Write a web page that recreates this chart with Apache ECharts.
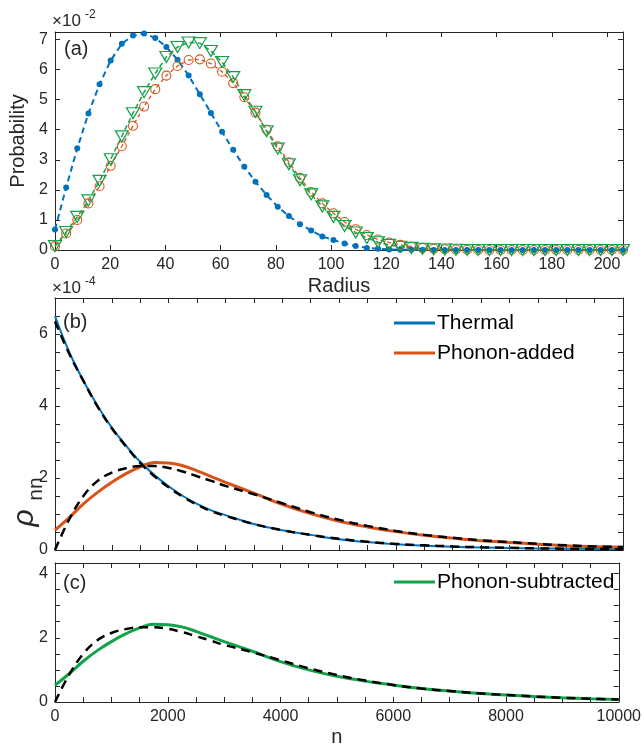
<!DOCTYPE html>
<html>
<head>
<meta charset="utf-8">
<script src="https://cdn.jsdelivr.net/npm/echarts@6/dist/echarts.min.js"></script>
<style>
html,body{margin:0;padding:0;background:#fff;}
#chart{width:644px;height:748px;}
</style>
</head>
<body>
<div id="chart"></div>
<script>
// ---------- Panel (a) data (Probability, units of 1e-2) ----------
const radius = [0, 4.04, 8.07, 12.11, 16.14, 20.18, 24.21, 28.25, 32.28, 36.32, 40.35, 44.39, 48.42, 52.46, 56.49, 60.53, 64.56, 68.6, 72.63, 76.67, 80.7, 84.74, 88.77, 92.81, 96.84, 100.88, 104.91, 108.95, 112.98, 117.02, 121.05, 125.09, 129.12, 133.16, 137.19, 141.23, 145.26, 149.3, 153.33, 157.37, 161.4, 165.44, 169.47, 173.51, 177.54, 181.58, 185.61, 189.65, 193.68, 197.72, 201.75, 205.79];
const probThermal = [0.68, 2.08, 3.38, 4.54, 5.51, 6.3, 6.86, 7.13, 7.2, 7.05, 6.75, 6.33, 5.8, 5.18, 4.56, 3.93, 3.33, 2.77, 2.27, 1.83, 1.44, 1.13, 0.86, 0.65, 0.45, 0.33, 0.22, 0.13, 0.07, 0.04, 0.02, 0.01, 0.005, 0, 0, 0, 0, 0, 0, 0, 0, 0, 0, 0, 0, 0, 0, 0, 0, 0, 0, 0];
const probAdded = [0.12, 0.55, 1.0, 1.55, 2.12, 2.8, 3.45, 4.13, 4.77, 5.35, 5.8, 6.12, 6.32, 6.34, 6.2, 5.93, 5.55, 5.08, 4.57, 4.0, 3.45, 2.92, 2.4, 1.93, 1.55, 1.22, 0.93, 0.69, 0.5, 0.35, 0.25, 0.17, 0.11, 0.07, 0.04, 0.025, 0.015, 0.01, 0, 0, 0, 0, 0, 0, 0, 0, 0, 0, 0, 0, 0, 0];
const probSubtracted = [0.13, 0.6, 1.1, 1.65, 2.3, 3.02, 3.78, 4.55, 5.25, 5.87, 6.42, 6.75, 6.9, 6.88, 6.62, 6.25, 5.75, 5.15, 4.6, 3.95, 3.37, 2.85, 2.32, 1.85, 1.45, 1.1, 0.8, 0.58, 0.4, 0.26, 0.17, 0.11, 0.07, 0.04, 0.025, 0.015, 0.01, 0, 0, 0, 0, 0, 0, 0, 0, 0, 0, 0, 0, 0, 0, 0];

// ---------- Panels (b),(c) data (rho_nn, units of 1e-4) ----------
const nVals = [0, 250, 500, 750, 1000, 1250, 1500, 1750, 2000, 2250, 2500, 2750, 3000, 3500, 4000, 4500, 5000, 5500, 6000, 6500, 7000, 7500, 8000, 8500, 9000, 9500, 10000];
const rhoThermal = [6.5, 5.5, 4.7, 4.0, 3.4, 2.9, 2.45, 2.08, 1.77, 1.5, 1.28, 1.1, 0.97, 0.72, 0.55, 0.42, 0.3, 0.22, 0.16, 0.12, 0.09, 0.07, 0.055, 0.045, 0.035, 0.03, 0.025];
const fitThermal = [6.35, 5.45, 4.7, 3.98, 3.38, 2.88, 2.42, 2.05, 1.74, 1.48, 1.26, 1.08, 0.95, 0.72, 0.55, 0.42, 0.31, 0.23, 0.17, 0.13, 0.1, 0.075, 0.06, 0.045, 0.035, 0.028, 0.022];
const rhoAdded = [0.55, 0.9, 1.28, 1.6, 1.88, 2.12, 2.31, 2.43, 2.42, 2.34, 2.2, 2.04, 1.88, 1.58, 1.27, 1.01, 0.8, 0.64, 0.51, 0.41, 0.33, 0.26, 0.21, 0.16, 0.12, 0.095, 0.075];
const fitAdded = [0, 0.85, 1.5, 1.92, 2.15, 2.27, 2.33, 2.33, 2.28, 2.18, 2.05, 1.92, 1.78, 1.55, 1.3, 1.05, 0.84, 0.67, 0.53, 0.42, 0.34, 0.27, 0.22, 0.17, 0.13, 0.1, 0.08];
const rhoSubtracted = [0.52, 0.88, 1.27, 1.6, 1.88, 2.12, 2.31, 2.42, 2.41, 2.34, 2.2, 2.04, 1.88, 1.58, 1.26, 1.0, 0.8, 0.65, 0.53, 0.42, 0.34, 0.27, 0.22, 0.17, 0.13, 0.1, 0.08];
const fitSubtracted = [0, 0.85, 1.5, 1.92, 2.15, 2.27, 2.33, 2.33, 2.28, 2.18, 2.05, 1.92, 1.78, 1.55, 1.3, 1.05, 0.84, 0.67, 0.53, 0.42, 0.34, 0.27, 0.22, 0.17, 0.13, 0.1, 0.08];

const radiusTicks = [0, 20, 40, 60, 80, 100, 120, 140, 160, 180, 200];
const nTicks = [0, 2000, 4000, 6000, 8000, 10000];

// ---------- styling ----------
const FONT = '"Liberation Sans", Arial, Helvetica, sans-serif';
const AX = '#262626';
const BLUE = '#0072BD', ORANGE = '#D95319', GREEN = '#12A24A';

function pairs(xs, ys) { return xs.map((x, i) => [x, ys[i]]); }
function near(v, list) { return list.some(t => Math.abs(t - v) < 1e-6); }

function xAxis(grid, min, max, interval, pos, labels, name, nameGap) {
  return {
    type: 'value', gridIndex: grid, position: pos, min: min, max: max, interval: interval,
    axisLine: { show: true, onZero: false, lineStyle: { color: AX, width: 1 } },
    axisTick: { show: true, inside: true, length: 5, lineStyle: { color: AX } },
    splitLine: { show: false },
    axisLabel: {
      show: !!labels, color: AX, fontFamily: FONT, fontSize: 16, margin: 7,
      formatter: v => (labels && near(v, labels)) ? String(v) : ''
    },
    name: name || '', nameLocation: 'middle', nameGap: nameGap || 0,
    nameTextStyle: { color: AX, fontFamily: FONT, fontSize: 20 }
  };
}
function yAxis(grid, min, max, interval, pos, labels, name, nameGap) {
  return {
    type: 'value', gridIndex: grid, position: pos, min: min, max: max, interval: interval,
    axisLine: { show: true, onZero: false, lineStyle: { color: AX, width: 1 } },
    axisTick: { show: true, inside: true, length: 5, lineStyle: { color: AX } },
    splitLine: { show: false },
    axisLabel: {
      show: !!labels, color: AX, fontFamily: FONT, fontSize: 16, margin: 7,
      formatter: v => (labels && near(v, labels)) ? String(v) : ''
    },
    name: name || '', nameLocation: 'middle', nameGap: nameGap || 0, nameRotate: 90,
    nameTextStyle: { color: AX, fontFamily: FONT, fontSize: 20 }
  };
}

const chart = echarts.init(document.getElementById('chart'), null, { renderer: 'canvas' });

const option = {
  animation: false,
  backgroundColor: '#fff',
  grid: [
    { left: 55, top: 32, width: 568, height: 218 },
    { left: 55, top: 298, width: 568, height: 252 },
    { left: 55, top: 563, width: 568, height: 155 }
  ],
  xAxis: [
    xAxis(0, 0, 205.79, 20, 'bottom', radiusTicks, 'Radius', 26),
    xAxis(0, 0, 205.79, 20, 'top', null),
    xAxis(1, 0, 10000, 500, 'bottom', null),
    xAxis(1, 0, 10000, 500, 'top', null),
    xAxis(2, 0, 10000, 500, 'bottom', nTicks, 'n', 25),
    xAxis(2, 0, 10000, 500, 'top', null)
  ],
  yAxis: [
    yAxis(0, 0, 7.25, 1, 'left', [0, 1, 2, 3, 4, 5, 6, 7], 'Probability', 21),
    yAxis(0, 0, 7.25, 1, 'right', null),
    yAxis(1, 0, 7, 0.5, 'left', [0, 2, 4, 6]),
    yAxis(1, 0, 7, 0.5, 'right', null),
    yAxis(2, 0, 4.33, 0.5, 'left', [0, 2, 4]),
    yAxis(2, 0, 4.33, 0.5, 'right', null)
  ],
  legend: [
    {
      data: ['Thermal', 'Phonon-added'], orient: 'vertical', left: 389, top: 303,
      icon: 'rect', itemWidth: 41, itemHeight: 3, itemGap: 0, selectedMode: false,
      textStyle: { fontFamily: FONT, fontSize: 21, color: '#000', lineHeight: 30, padding: [0, 0, 0, -3] }
    },
    {
      data: ['Phonon-subtracted'], orient: 'vertical', left: 389, top: 562,
      icon: 'rect', itemWidth: 41, itemHeight: 3, itemGap: 0, selectedMode: false,
      textStyle: { fontFamily: FONT, fontSize: 21, color: '#000', lineHeight: 30, padding: [0, 0, 0, -3] }
    }
  ],
  series: [
    // panel (a)
    {
      name: 'P-thermal', type: 'line', xAxisIndex: 0, yAxisIndex: 0, clip: false,
      data: pairs(radius, probThermal), symbol: 'circle', symbolSize: 6,
      itemStyle: { color: BLUE }, lineStyle: { color: BLUE, width: 2, type: [6, 4] }
    },
    {
      name: 'P-added', type: 'line', xAxisIndex: 0, yAxisIndex: 0, clip: false,
      data: pairs(radius, probAdded), symbol: 'circle', symbolSize: 9,
      itemStyle: { color: 'rgba(0,0,0,0)', borderColor: ORANGE, borderWidth: 1.1 },
      lineStyle: { color: ORANGE, width: 1.3, type: [4, 3] }
    },
    {
      name: 'P-subtracted', type: 'line', xAxisIndex: 0, yAxisIndex: 0, clip: false,
      data: pairs(radius, probSubtracted), symbol: 'triangle', symbolRotate: 180, symbolSize: [13, 11],
      itemStyle: { color: 'rgba(0,0,0,0)', borderColor: GREEN, borderWidth: 1.2 },
      lineStyle: { color: GREEN, width: 1.5, type: [5, 3] }
    },
    // panel (b)
    {
      name: 'Thermal', type: 'line', xAxisIndex: 2, yAxisIndex: 2, smooth: 0.4, symbol: 'none',
      data: pairs(nVals, rhoThermal), itemStyle: { color: BLUE }, lineStyle: { color: BLUE, width: 2 }
    },
    {
      name: 'Phonon-added', type: 'line', xAxisIndex: 2, yAxisIndex: 2, smooth: 0.4, symbol: 'none',
      data: pairs(nVals, rhoAdded), itemStyle: { color: ORANGE }, lineStyle: { color: ORANGE, width: 3 }
    },
    {
      name: 'fit-thermal', type: 'line', xAxisIndex: 2, yAxisIndex: 2, smooth: 0.4, symbol: 'none',
      data: pairs(nVals, fitThermal), itemStyle: { color: '#000' }, lineStyle: { color: '#000', width: 2.5, type: [9, 6] }
    },
    {
      name: 'fit-added', type: 'line', xAxisIndex: 2, yAxisIndex: 2, smooth: 0.4, symbol: 'none',
      data: pairs(nVals, fitAdded), itemStyle: { color: '#000' }, lineStyle: { color: '#000', width: 2.5, type: [9, 6] }
    },
    // panel (c)
    {
      name: 'Phonon-subtracted', type: 'line', xAxisIndex: 4, yAxisIndex: 4, smooth: 0.4, symbol: 'none',
      data: pairs(nVals, rhoSubtracted), itemStyle: { color: GREEN }, lineStyle: { color: GREEN, width: 3 }
    },
    {
      name: 'fit-subtracted', type: 'line', xAxisIndex: 4, yAxisIndex: 4, smooth: 0.4, symbol: 'none',
      data: pairs(nVals, fitSubtracted), itemStyle: { color: '#000' }, lineStyle: { color: '#000', width: 2.5, type: [9, 6] }
    }
  ],
  graphic: [
    { type: 'text', x: 64, y: 49, style: { text: '(a)', font: '20px ' + FONT, fill: AX, textVerticalAlign: 'middle' } },
    { type: 'text', x: 63, y: 322, style: { text: '(b)', font: '20px ' + FONT, fill: AX, textVerticalAlign: 'middle' } },
    { type: 'text', x: 63, y: 583, style: { text: '(c)', font: '20px ' + FONT, fill: AX, textVerticalAlign: 'middle' } },
    { type: 'text', x: 52, y: 21, style: { text: '\u00d710', font: '17px ' + FONT, fill: AX, textVerticalAlign: 'middle' } },
    { type: 'text', x: 85, y: 15, style: { text: '-2', font: '12px ' + FONT, fill: AX, textVerticalAlign: 'middle' } },
    { type: 'text', x: 52, y: 288, style: { text: '\u00d710', font: '17px ' + FONT, fill: AX, textVerticalAlign: 'middle' } },
    { type: 'text', x: 85, y: 282, style: { text: '-4', font: '12px ' + FONT, fill: AX, textVerticalAlign: 'middle' } },
    { type: 'text', x: 25, y: 518, rotation: Math.PI / 2, style: { text: '\u03c1', font: 'italic 30px ' + FONT, fill: AX, textAlign: 'center', textVerticalAlign: 'middle' } },
    { type: 'text', x: 36, y: 489, rotation: Math.PI / 2, style: { text: 'nn', font: '21px ' + FONT, fill: AX, textAlign: 'center', textVerticalAlign: 'middle' } }
  ]
};
chart.setOption(option);
</script>
</body>
</html>
